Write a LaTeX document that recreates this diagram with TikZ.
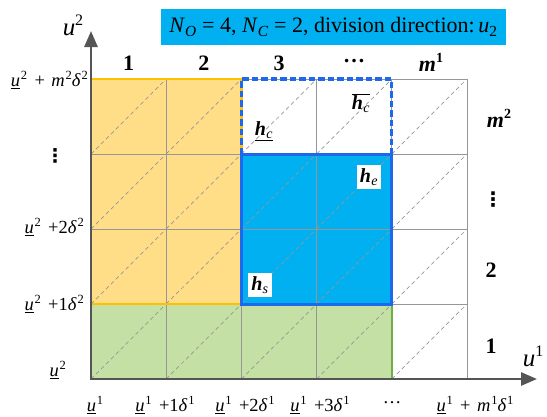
\documentclass[tikz,border=0pt]{standalone}
\usepackage{fontspec}
\setmainfont{Liberation Serif}
\newfontfamily\dejavu{DejaVu Sans}
\usetikzlibrary{arrows.meta}
\definecolor{titleblue}{RGB}{0,176,240}
\definecolor{cellblue}{RGB}{0,176,240}
\definecolor{edgeblue}{RGB}{30,105,235}
\definecolor{yfill}{RGB}{255,222,135}
\definecolor{yedge}{RGB}{255,192,0}
\definecolor{gfill}{RGB}{197,224,164}
\definecolor{gedge}{RGB}{112,173,71}
\definecolor{axisgray}{RGB}{85,85,85}
\definecolor{gridgray}{RGB}{150,150,150}
\newcommand\sps[1]{\kern0.8pt\raisebox{0.42em}{\fontsize{12.5}{12}\selectfont #1}}
\newcommand\uub[1]{\underline{\textit{u}}\sps{#1}}
\newcommand\plusx{\hspace{0.4em}+}
\newcommand\plusm{\hspace{0.4em}+\hspace{0.35em}}
\newcommand\hlab[1]{\textbf{\textit{h}}\kern0.3pt\textsubscript{\textit{#1}}}
\tikzset{
  gridline/.style={gridgray, line width=0.9pt},
  diag/.style={gridgray, line width=0.7pt, dash pattern=on 4pt off 3pt},
  axisline/.style={axisgray, line width=2.8pt, {Triangle[length=16pt,width=13pt]}-{Triangle[length=16pt,width=13pt]}},
  colnum/.style={font=\bfseries\fontsize{22}{24}\selectfont, inner sep=0pt},
  coordlab/.style={font=\fontsize{18.5}{20}\selectfont, inner sep=0pt},
  hbox/.style={font=\fontsize{20}{22}\selectfont, inner sep=2pt},
  whitebox/.style={hbox, fill=white, inner sep=3pt},
}
\begin{document}
\begin{tikzpicture}[x=1pt,y=-1pt]
\useasboundingbox (0,0) rectangle (547,416);
% title
\node[fill=titleblue, minimum width=345pt, minimum height=36pt, inner sep=0pt,
      font=\fontsize{22}{26}\selectfont] (title) at (333.5,27)
  {\textit{N}\textsubscript{\textit{O}} = 4, \textit{N}\textsubscript{\textit{C}} = 2, division direction:\,\textit{u}\textsubscript{2}};
% fills
\fill[yfill] (91,79) rectangle (241.4,304);
\fill[gfill] (91,304) rectangle (391.8,379);
\fill[cellblue] (241.4,154) rectangle (391.8,304);
% grid
\foreach \x in {91,166.2,241.4,316.6,391.8,467}
  \draw[gridline] (\x,79) -- (\x,379);
\foreach \y in {79,154,229,304,379}
  \draw[gridline] (91,\y) -- (467,\y);
% diagonals
\foreach \i in {0,...,4}
  \foreach \j in {0,...,3}
    \draw[diag] ({91+75.2*\i},{379-75*\j}) -- ({166.2+75.2*\i},{304-75*\j});
% borders
\draw[gedge, line width=2pt] (91,304) rectangle (391.8,379);
\draw[yedge, line width=2.2pt] (91,79) rectangle (241.4,304);
\draw[edgeblue, line width=3pt] (241.4,154) rectangle (391.8,304);
\draw[edgeblue, line width=3.2pt, dash pattern=on 6.5pt off 3pt]
  (241.4,154) -- (241.4,79) -- (391.8,79) -- (391.8,154);
% axes
\coordinate (O) at (91,379);
\coordinate (ytip) at (91,31);
\coordinate (xtip) at (537,379);
\draw[axisline] (ytip) -- (O) -- (xtip);
\node[font=\itshape\fontsize{25}{27}\selectfont, inner sep=0pt] (ax2) at (73,25) {u\raisebox{0.4em}{\upshape\fontsize{16}{16}\selectfont 2}};
\node[font=\itshape\fontsize{25}{27}\selectfont, inner sep=0pt] (ax1) at (533,356) {u\raisebox{0.4em}{\upshape\fontsize{16}{16}\selectfont 1}};
% column numbers
\node[colnum] (c1) at (128.6,63) {1};
\node[colnum] (c2) at (203.8,63) {2};
\node[colnum] (c3) at (279,63) {3};
\node[colnum] (c4) at (354.2,61) {…};
\node[colnum] (c5) at (431,62) {\textit{m}\raisebox{0.42em}{\fontsize{14}{14}\selectfont 1}};
% row numbers
\node[colnum] (r4) at (499,118) {\textit{m}\raisebox{0.42em}{\fontsize{14}{14}\selectfont 2}};
\node[colnum, font=\dejavu\bfseries\fontsize{20}{22}\selectfont] (r3) at (493,200) {⋮};
\node[colnum] (r2) at (491,270) {2};
\node[colnum] (r1) at (491,346) {1};
% left labels
\node[coordlab, anchor=east] (l4) at (88,80) {\uub{2}\plusm\textit{m}\sps{2}\textit{δ}\sps{2}};
\node[coordlab, font=\dejavu\bfseries\fontsize{19}{20}\selectfont] (l3) at (55,156) {⋮};
\node[coordlab, anchor=east] (l2) at (84,227) {\uub{2}\plusx 2\textit{δ}\sps{2}};
\node[coordlab, anchor=east] (l1) at (84,304) {\uub{2}\plusx 1\textit{δ}\sps{2}};
\node[coordlab, anchor=east] (l0) at (66,370) {\uub{2}};
% bottom labels
\node[coordlab] (b0) at (95,405) {\uub{1}};
\node[coordlab] (b1) at (165,405) {\uub{1}\plusx 1\textit{δ}\sps{1}};
\node[coordlab] (b2) at (245,405) {\uub{1}\plusx 2\textit{δ}\sps{1}};
\node[coordlab] (b3) at (320,405) {\uub{1}\plusx 3\textit{δ}\sps{1}};
\node[coordlab] (b4) at (392,403) {…};
\node[coordlab] (b5) at (475,405) {\uub{1}\plusm\textit{m}\sps{1}\textit{δ}\sps{1}};
% h labels
\node[hbox] (hcl) at (264,131) {\underline{\hlab{c}}};
\node[hbox] (hcu) at (361,103) {$\overline{\mbox{\hlab{c}}}$};
\node[whitebox] (he) at (369,177) {\hlab{e}};
\node[whitebox] (hs) at (260,285) {\hlab{s}};
\end{tikzpicture}
\end{document}
